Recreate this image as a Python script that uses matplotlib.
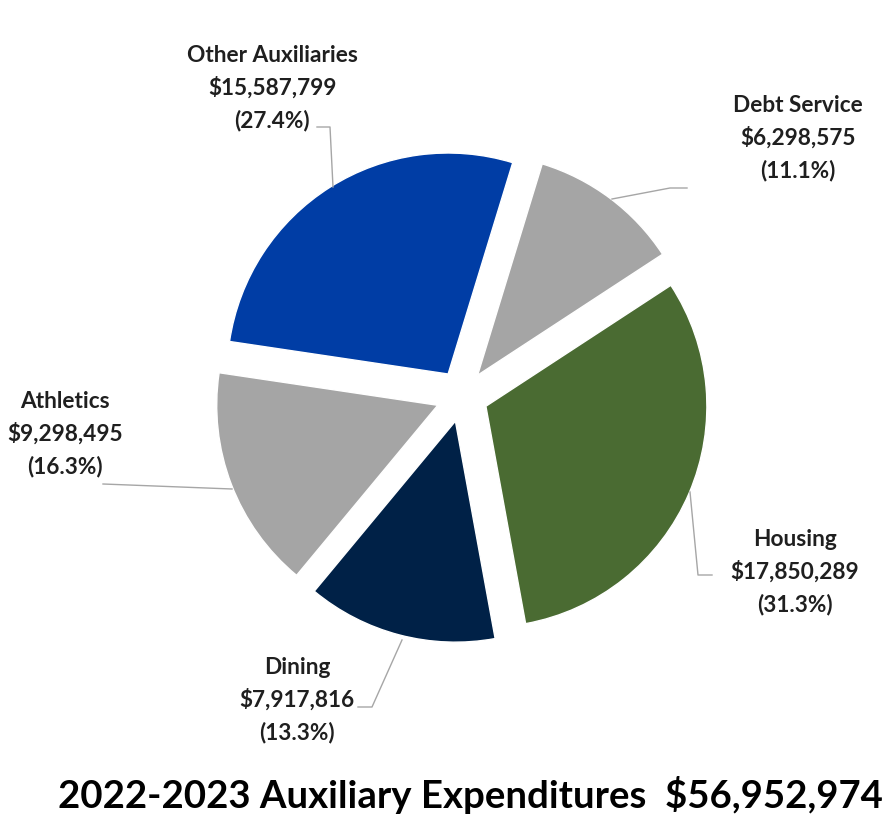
import matplotlib
matplotlib.use("Agg")
import matplotlib.pyplot as plt

# ---- data ----
categories = ["Debt Service", "Housing", "Dining", "Athletics", "Other Auxiliaries"]
amounts = [6298575, 17850289, 7917816, 9298495, 15587799]
pct_labels = ["11.1%", "31.3%", "13.3%", "16.3%", "27.4%"]
colors = ["#A5A5A5", "#4A6B32", "#002147", "#A5A5A5", "#003DA5"]
title = "2022-2023 Auxiliary Expenditures  $56,952,974"

# ---- layout (pixel coords, y down) ----
W, H = 884, 816
center_px = (462, 396)
radius = 221
explode_px = 26
label_pos = [(798, 138), (795, 572), (297, 700), (65, 434), (272, 88)]
leaders = [
    [(687, 188), (670, 188), (612, 199)],
    [(712, 575), (698, 575), (690, 492)],
    [(358, 707), (372, 707), (402, 640)],
    [(103, 484), (232, 489)],
    [(317, 127), (330, 127), (333, 187)],
]

plt.rcParams['font.family'] = ['Lato', 'DejaVu Sans']
fig = plt.figure(figsize=(W / 100, H / 100), dpi=100)
ax = fig.add_axes([0, 0, 1, 1])

def Y(y):
    return H - y

ax.pie(amounts, colors=colors, radius=radius,
       center=(center_px[0], Y(center_px[1])),
       startangle=73, counterclock=False,
       explode=[explode_px] * len(amounts),
       wedgeprops=dict(edgecolor="white", linewidth=1.0))

for pts in leaders:
    ax.plot([p[0] for p in pts], [Y(p[1]) for p in pts],
            color="#A6A6A6", lw=1.0, zorder=1)

for cat, amt, pct, (x, y) in zip(categories, amounts, pct_labels, label_pos):
    txt = f"{cat}\n${amt:,}\n({pct})"
    ax.text(x, Y(y), txt, ha="center", va="center", fontsize=16.3,
            fontweight="bold", color="#1F1F1F", linespacing=1.58)

ax.text(470, Y(795), title, ha="center", va="center", fontsize=27.6,
        fontweight="bold", color="black")

ax.set_xlim(0, W)
ax.set_ylim(0, H)
ax.set_aspect("equal")
ax.axis("off")
fig.savefig("out.png", dpi=100, facecolor="white")
